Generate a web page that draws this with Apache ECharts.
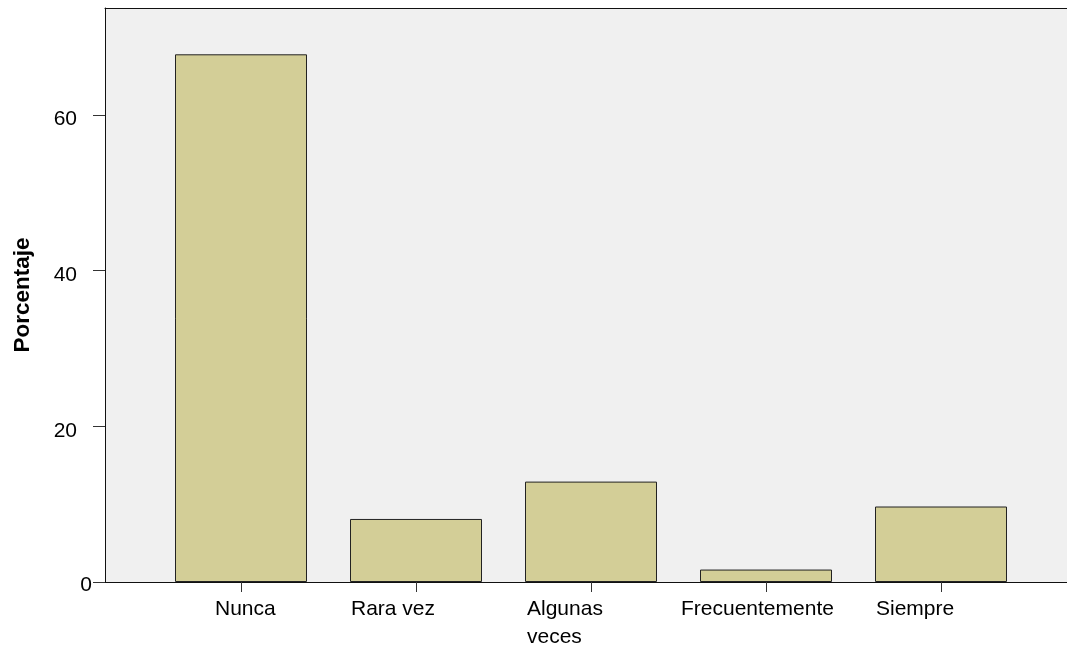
<!DOCTYPE html>
<html>
<head>
<meta charset="utf-8">
<script src="https://cdn.jsdelivr.net/npm/echarts@6/dist/echarts.min.js"></script>
<style>
html,body{margin:0;padding:0;background:#fff;}
#chart{width:1067px;height:649px;}
</style>
</head>
<body>
<div id="chart"></div>
<script>
// ---- data ----
const categories = ['Nunca', 'Rara vez', 'Algunas veces', 'Frecuentemente', 'Siempre'];
const tickLabels = ['Nunca', 'Rara vez', 'Algunas\nveces', 'Frecuentemente', 'Siempre'];
const percentages = [67.8, 8.1, 12.9, 1.6, 9.7];
const yAxisTitle = 'Porcentaje';

// ---- layout / style ----
const FONT = 'Arial, "Liberation Sans", sans-serif';
const labelBoxWidths = [52, 130, 128, 170, 130];
const Y_MAX = 73.75;

const rich = {};
labelBoxWidths.forEach((w, i) => {
  rich['w' + i] = { width: w, align: 'left', fontSize: 21, lineHeight: 28, fontFamily: FONT, color: '#000' };
});

const chart = echarts.init(document.getElementById('chart'), null, { renderer: 'canvas' });
chart.setOption({
  animation: false,
  backgroundColor: '#fff',
  grid: [
    { left: 105, right: 0, top: 8, bottom: 67, show: true, backgroundColor: '#F0F0F0', borderWidth: 0 },
    { left: 153.5, width: 875, top: 8, bottom: 67 }
  ],
  xAxis: [
    { gridIndex: 0, type: 'value', min: 0, max: 1, position: 'bottom',
      axisLine: { show: true, onZero: false, lineStyle: { color: '#111', width: 1 } },
      axisTick: { show: false }, axisLabel: { show: false }, splitLine: { show: false } },
    { gridIndex: 0, type: 'value', min: 0, max: 1, position: 'top',
      axisLine: { show: true, onZero: false, lineStyle: { color: '#111', width: 1 } },
      axisTick: { show: false }, axisLabel: { show: false }, splitLine: { show: false } },
    { gridIndex: 1, type: 'category', data: categories, position: 'bottom',
      axisLine: { show: false },
      axisTick: { show: true, alignWithLabel: true, length: 10, lineStyle: { color: '#333' } },
      axisLabel: {
        interval: 0, margin: 13, hideOverlap: false,
        formatter: (v, i) => tickLabels[i].split('\n').map(l => '{w' + i + '|' + l + '}').join('\n'),
        rich: rich
      },
      splitLine: { show: false } }
  ],
  yAxis: [
    { gridIndex: 0, type: 'value', min: 0, max: Y_MAX, interval: 20,
      name: yAxisTitle, nameLocation: 'middle', nameRotate: 90, nameGap: 71,
      nameTextStyle: { fontFamily: FONT, fontSize: 22.5, fontWeight: 'bold', color: '#000' },
      axisLine: { show: true, lineStyle: { color: '#111', width: 1 } },
      axisTick: { show: true, length: 12, lineStyle: { color: '#333' } },
      axisLabel: {
        margin: 13, showMaxLabel: false,
        formatter: v => v === 0 ? '{z|0}' : '{n|' + v + '}',
        rich: {
          n: { fontFamily: FONT, fontSize: 21, color: '#000', align: 'right', padding: [9, 15, 0, 0] },
          z: { fontFamily: FONT, fontSize: 21, color: '#000', align: 'right', padding: [7, 0, 0, 0] }
        }
      },
      splitLine: { show: false } },
    { gridIndex: 1, type: 'value', min: 0, max: Y_MAX, interval: 20, show: false }
  ],
  series: [{
    type: 'bar',
    xAxisIndex: 2, yAxisIndex: 1,
    data: percentages,
    barWidth: 132,
    itemStyle: { color: '#D3CE97', borderColor: '#222', borderWidth: 1 }
  }]
});
</script>
</body>
</html>
